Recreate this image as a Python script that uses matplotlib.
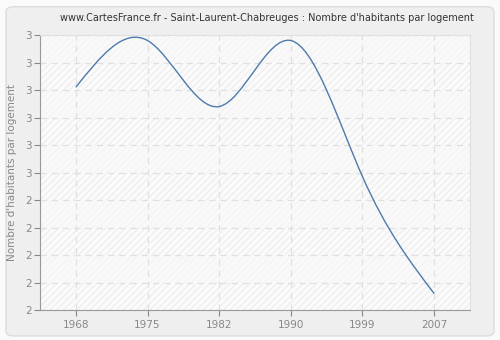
import numpy as np
import matplotlib
matplotlib.use("Agg")
import matplotlib.pyplot as plt
from matplotlib.path import Path
from matplotlib.patches import PathPatch, FancyBboxPatch
from matplotlib.ticker import FuncFormatter

# census years and inhabitants per dwelling
years = ["1968", "1975", "1982", "1990", "1999", "2007"]
values = [2.81, 2.98, 2.74, 2.98, 2.485, 2.06]

title = "www.CartesFrance.fr - Saint-Laurent-Chabreuges : Nombre d'habitants par logement"
ylabel = "Nombre d'habitants par logement"
yticks = [2.0, 2.1, 2.2, 2.3, 2.4, 2.5, 2.6, 2.7, 2.8, 2.9, 3.0]


def spline_slopes(x, y):
    # natural cubic spline first derivatives at the knots
    n = len(x)
    h = np.diff(x)
    A = np.zeros((n, n))
    r = np.zeros(n)
    A[0, 0], A[0, 1] = 2, 1
    r[0] = 3 * (y[1] - y[0]) / h[0]
    A[-1, -2], A[-1, -1] = 1, 2
    r[-1] = 3 * (y[-1] - y[-2]) / h[-1]
    for i in range(1, n - 1):
        A[i, i - 1] = 1 / h[i - 1]
        A[i, i] = 2 * (1 / h[i - 1] + 1 / h[i])
        A[i, i + 1] = 1 / h[i]
        r[i] = 3 * ((y[i] - y[i - 1]) / h[i - 1] ** 2 + (y[i + 1] - y[i]) / h[i] ** 2)
    return np.linalg.solve(A, r)


fig = plt.figure(figsize=(5, 3.4), dpi=100)
fig.patch.set_facecolor("#fafafa")
fig.patches.append(FancyBboxPatch((0.012, 0.012), 0.976, 0.968,
                                  boxstyle="round,pad=0,rounding_size=0.015",
                                  transform=fig.transFigure, facecolor="#efefef",
                                  edgecolor="#dcdcdc", linewidth=1, zorder=-10))

ax = fig.add_axes([0.08, 0.088, 0.86, 0.809])
ax.set_facecolor("#fbfbfb")

x = np.arange(len(years), dtype=float)
y = np.array(values)

ax.set_xlim(-0.5, len(years) - 0.5)
ax.set_ylim(yticks[0], yticks[-1])

# faint hatched background and alternating bands
ax.add_patch(plt.Rectangle((0, 0), 1, 1, transform=ax.transAxes, facecolor="none",
                           edgecolor="#efefef", hatch="/////", linewidth=0, zorder=0))
for i in range(1, len(yticks) - 1, 2):
    ax.axhspan(yticks[i], yticks[i + 1], color="#f9f9f9", alpha=0.6, zorder=0.5, linewidth=0)

# smooth curve through the points as cubic Bezier segments
m = spline_slopes(x, y)
verts = [(x[0], y[0])]
codes = [Path.MOVETO]
for i in range(len(x) - 1):
    h = x[i + 1] - x[i]
    verts += [(x[i] + h / 3, y[i] + m[i] * h / 3),
              (x[i + 1] - h / 3, y[i + 1] - m[i + 1] * h / 3),
              (x[i + 1], y[i + 1])]
    codes += [Path.CURVE4] * 3
ax.add_patch(PathPatch(Path(verts, codes), facecolor="none", edgecolor="#4f7aab",
                       linewidth=1.0, zorder=3))

ax.set_xticks(x)
ax.set_xticklabels(years)
ax.set_yticks(yticks)
ax.yaxis.set_major_formatter(FuncFormatter(lambda v, p: str(int(np.floor(v + 0.5 + 1e-9)))))

ax.grid(True, color="#e0e0e0", linestyle=(0, (5, 4)), linewidth=0.9, zorder=1)
ax.set_axisbelow(True)
ax.tick_params(colors="#888888", labelsize=7.5, length=4, width=0.8)
ax.tick_params(axis="y", pad=2)
for s in ["left", "bottom"]:
    ax.spines[s].set_color("#999999")
for s in ["top", "right"]:
    ax.spines[s].set_color("#e0e0e0")

ax.set_ylabel(ylabel, color="#888888", fontsize=7.5, labelpad=6)
fig.text(0.534, 0.948, title, ha="center", va="center", fontsize=7, color="#333333")

fig.savefig("out.png", dpi=100, facecolor=fig.get_facecolor())
